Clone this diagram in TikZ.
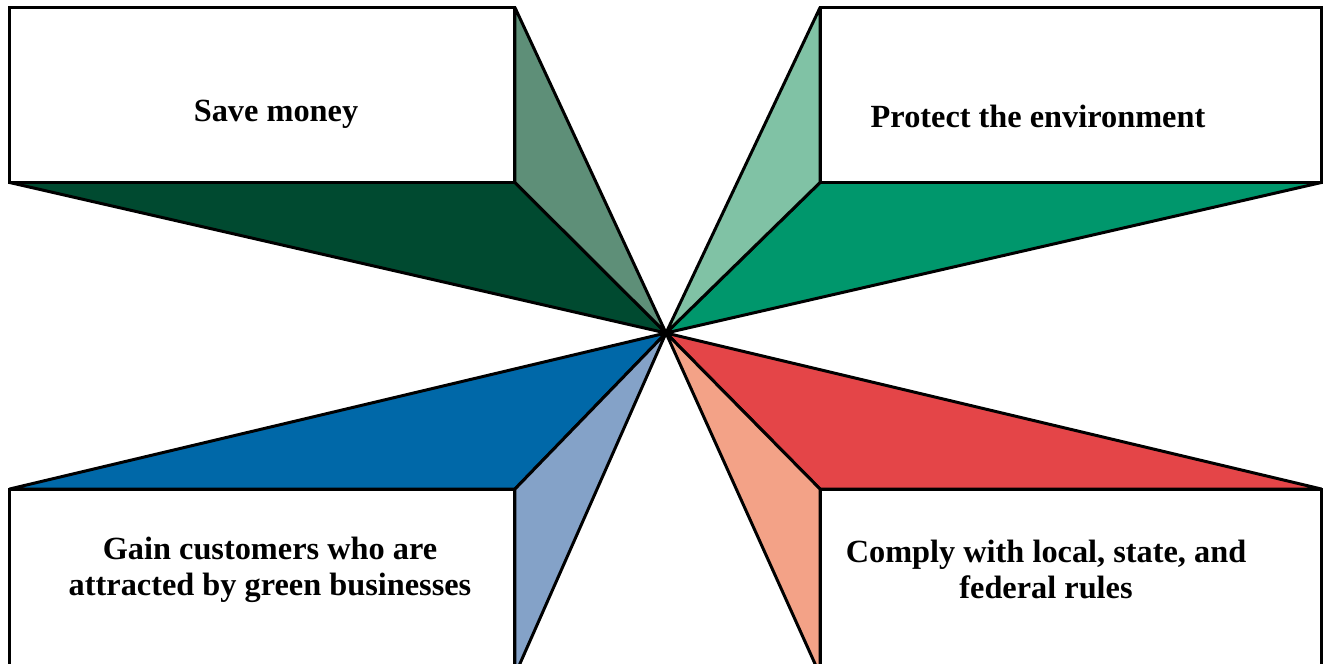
\documentclass[tikz,border=0pt]{standalone}
\usepackage{fontspec}
\setmainfont{Liberation Serif}
\usepackage{tikz}
\usetikzlibrary{positioning}
\definecolor{verdeOscuro}{HTML}{004A30}
\definecolor{verdeGris}{HTML}{5E8F78}
\definecolor{verdeClaro}{HTML}{80C2A5}
\definecolor{verdeMedio}{HTML}{00976C}
\definecolor{azulMedio}{HTML}{0068A8}
\definecolor{azulClaro}{HTML}{84A2C8}
\definecolor{rojoMedio}{HTML}{E44548}
\definecolor{salmon}{HTML}{F3A287}

\begin{document}
\begin{tikzpicture}[
        x=0.02cm, y=-0.02cm,
        box/.style={draw, fill=white, line width=1.7pt, inner sep=0pt, outer sep=0pt,
            minimum height=3.5cm},
        facet/.style={draw, line width=1.7pt, line join=round},
        lbl/.style={font=\bfseries\fontsize{18.4}{20.5}\selectfont, align=center}
    ]
        \useasboundingbox (0,0) rectangle (1324,663);
        \coordinate (c) at (666,333);

        % the four boxes
        \node[box, minimum width=10.11cm] (save) at (262.25,95) {};
        \node[box, minimum width=10.03cm] (prot) at (1070.75,95) {};
        \node[box, minimum width=10.11cm, minimum height=3.72cm] (gain) at (262.25,582) {};
        \node[box, minimum width=10.03cm, minimum height=3.72cm] (comp) at (1070.75,582) {};

        % facets running to the centre
        \draw[facet, fill=verdeOscuro] (save.south west) -- (save.south east) -- (c) -- cycle;
        \draw[facet, fill=verdeGris] (save.north east) -- (save.south east) -- (c) -- cycle;
        \draw[facet, fill=verdeMedio] (prot.south east) -- (prot.south west) -- (c) -- cycle;
        \draw[facet, fill=verdeClaro] (prot.north west) -- (prot.south west) -- (c) -- cycle;
        \draw[facet, fill=azulMedio] (gain.north west) -- (gain.north east) -- (c) -- cycle;
        \draw[facet, fill=azulClaro] (gain.south east) -- (gain.north east) -- (c) -- cycle;
        \draw[facet, fill=rojoMedio] (comp.north east) -- (comp.north west) -- (c) -- cycle;
        \draw[facet, fill=salmon] (comp.south west) -- (comp.north west) -- (c) -- cycle;

        % redraw boxes on top
        \node[box, minimum width=10.11cm] at (save) {};
        \node[box, minimum width=10.03cm] at (prot) {};
        \node[box, minimum width=10.11cm, minimum height=3.72cm] at (gain) {};
        \node[box, minimum width=10.03cm, minimum height=3.72cm] at (comp) {};

        \node[lbl] (saveTxt) at (276,114) {Save money};
        \node[lbl] (protTxt) at (1038,116) {Protect the environment};
        \node[lbl] (gainTxt) at (270,570) {Gain customers who are\\attracted by green businesses};
        \node[lbl] (compTxt) at (1046,569) {Comply with local, state, and\\federal rules};
    \end{tikzpicture}
\end{document}
